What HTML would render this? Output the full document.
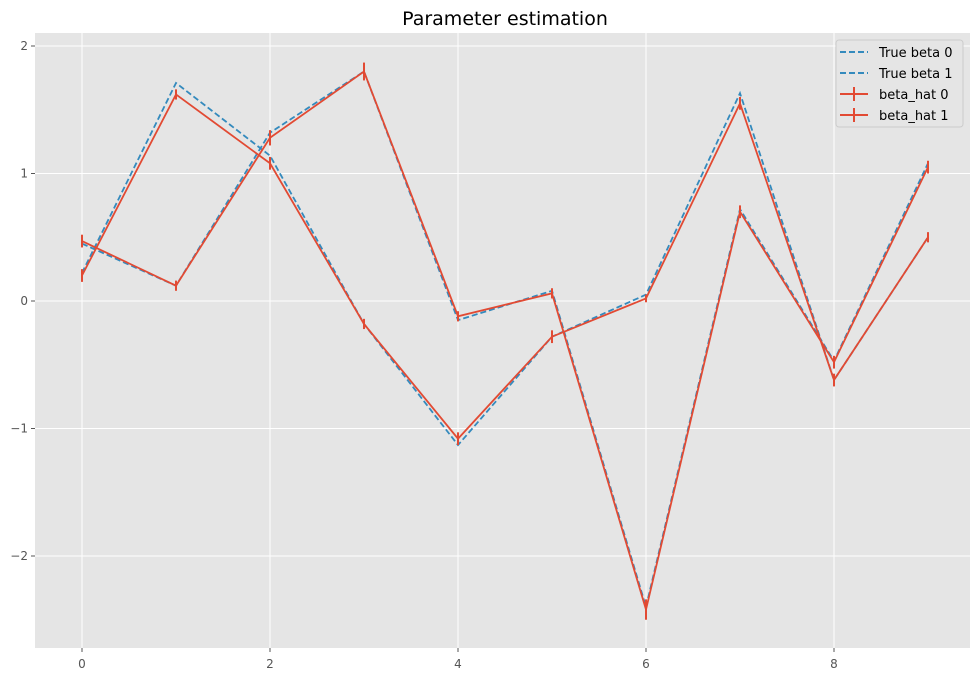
<!DOCTYPE html>
<html><head><meta charset="utf-8"><style>
body{margin:0;background:#fff;font-family:"Liberation Sans","DejaVu Sans",sans-serif}
</style></head><body>
<svg id="chart" width="980" height="683" xmlns="http://www.w3.org/2000/svg" font-family="DejaVu Sans, Liberation Sans, sans-serif">
<rect x="0" y="0" width="980" height="683" fill="#fff"/>
<rect x="35" y="33" width="935" height="615" fill="#e5e5e5"/>
<g id="grid"></g>
<g id="ticks"></g>
<g id="series"></g>
<text x="505" y="25" text-anchor="middle" font-size="19" fill="#000">Parameter estimation</text>
<g>
<rect x="836" y="40" width="127" height="87" rx="3" fill="#e5e5e5" stroke="#ccc"/>
<line x1="840" y1="52" x2="868" y2="52" stroke="#348abd" stroke-width="2" stroke-dasharray="6,3"/>
<text x="879" y="57" font-size="13">True beta 0</text>
<line x1="840" y1="73" x2="868" y2="73" stroke="#348abd" stroke-width="2" stroke-dasharray="6,3"/>
<text x="879" y="78" font-size="13">True beta 1</text>
<line x1="840" y1="94" x2="868" y2="94" stroke="#e24a33" stroke-width="2"/><line x1="854" y1="87" x2="854" y2="101" stroke="#e24a33" stroke-width="2"/>
<text x="879" y="99" font-size="13">beta_hat 0</text>
<line x1="840" y1="115" x2="868" y2="115" stroke="#e24a33" stroke-width="2"/><line x1="854" y1="108" x2="854" y2="122" stroke="#e24a33" stroke-width="2"/>
<text x="879" y="120" font-size="13">beta_hat 1</text>
</g>
</svg>
<script>
const xs=[0,1,2,3,4,5,6,7,8,9];
const trueBeta0=[0.45,0.12,1.32,1.80,-0.15,0.08,-2.40,0.72,-0.47,1.08];
const trueBeta1=[0.22,1.71,1.14,-0.18,-1.13,-0.28,0.05,1.63,-0.62,0.50];
const betaHat0=[0.47,0.12,1.28,1.80,-0.12,0.06,-2.42,0.70,-0.48,1.05];
const betaHat1=[0.20,1.62,1.08,-0.18,-1.08,-0.28,0.02,1.55,-0.62,0.50];
const hatErr0=[0.05,0.04,0.06,0.07,0.04,0.04,0.08,0.05,0.05,0.05];
const hatErr1=[0.05,0.04,0.05,0.04,0.05,0.05,0.03,0.05,0.05,0.04];
const xTicks=[0,2,4,6,8];
const yTicks=[2,1,0,-1,-2];
const yTickLabels=["2","1","0","\u22121","\u22122"];
const X=v=>82+v*94, Y=v=>301-v*127.5;
const NS="http://www.w3.org/2000/svg";
function mk(p,t,a){const e=document.createElementNS(NS,t);for(const k in a)e.setAttribute(k,a[k]);p.appendChild(e);return e;}
const grid=document.getElementById('grid'),ticks=document.getElementById('ticks'),ser=document.getElementById('series');
xTicks.forEach(v=>{
 const g=mk(grid,'line',{x1:X(v),x2:X(v),y1:33,y2:648,stroke:'#fff','stroke-width':1});
 
 
 mk(ticks,'line',{x1:X(v),x2:X(v),y1:648,y2:652,stroke:'#555'});
 const t=mk(ticks,'text',{x:X(v),y:668,'text-anchor':'middle','font-size':12,fill:'#555'});t.textContent=v;
 
 
});
yTicks.forEach((v,i)=>{
 const g=mk(grid,'line',{x1:35,x2:970,y1:Y(v),y2:Y(v),stroke:'#fff','stroke-width':1});
 
 
 mk(ticks,'line',{x1:31,x2:35,y1:Y(v),y2:Y(v),stroke:'#555'});
 const t=mk(ticks,'text',{x:28,y:Y(v)+4,'text-anchor':'end','font-size':12,fill:'#555'});t.textContent=yTickLabels[i];
 
 
});
function line(vals,color,dash,name){
 const p=mk(ser,'polyline',{points:vals.map((v,i)=>X(xs[i])+','+Y(v)).join(' '),fill:'none',stroke:color,'stroke-width':1.8});
 if(dash)p.setAttribute('stroke-dasharray',dash);
 
 
}
function errs(vals,err,name){
 vals.forEach((v,i)=>{
  const e=mk(ser,'line',{x1:X(xs[i]),x2:X(xs[i]),y1:Y(v+err[i]),y2:Y(v-err[i]),stroke:'#e24a33','stroke-width':2});
  
  
 });
}
line(trueBeta0,'#348abd','6,3','true-beta-0-line');
line(trueBeta1,'#348abd','6,3','true-beta-1-line');
line(betaHat0,'#e24a33',null,'beta-hat-0-line');
line(betaHat1,'#e24a33',null,'beta-hat-1-line');
errs(betaHat0,hatErr0,'beta-hat-0-errorbar');
errs(betaHat1,hatErr1,'beta-hat-1-errorbar');
</script>
</body></html>
